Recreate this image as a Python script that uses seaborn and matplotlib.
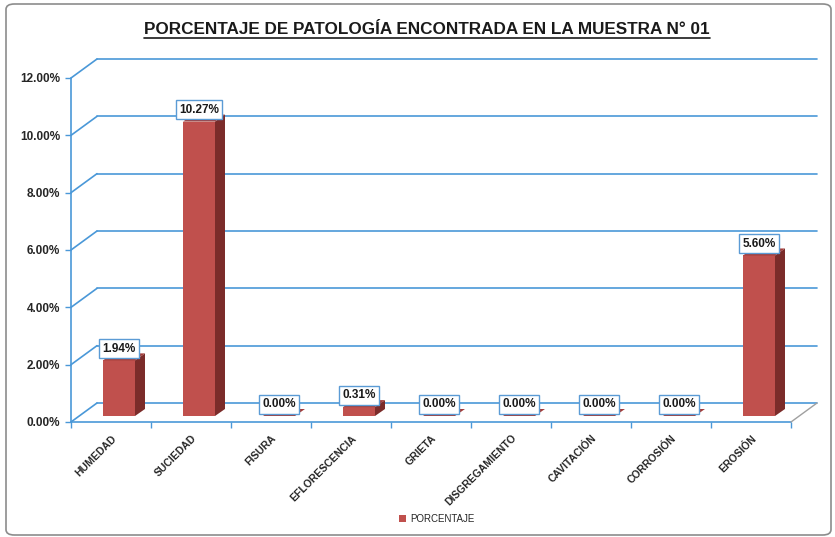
import matplotlib
matplotlib.use("Agg")
import matplotlib.pyplot as plt
import seaborn as sns
import numpy as np
from matplotlib.patches import Polygon, Patch, FancyBboxPatch
from matplotlib.transforms import ScaledTranslation
from matplotlib.lines import Line2D

categories = ["HUMEDAD", "SUCIEDAD", "FISURA", "EFLORESCENCIA", "GRIETA",
              "DISGREGAMIENTO", "CAVITACIÓN", "CORROSIÓN", "EROSIÓN"]
values = [1.94, 10.27, 0.00, 0.31, 0.00, 0.00, 0.00, 0.00, 5.60]
yticks = [0, 2, 4, 6, 8, 10, 12]
title = "PORCENTAJE DE PATOLOGÍA ENCONTRADA EN LA MUESTRA N° 01"
legend_label = "PORCENTAJE"

sns.set_style("white")
plt.rcParams["font.family"] = ["Liberation Sans", "DejaVu Sans"]

W, H = 835, 537
DPI = 100
fig = plt.figure(figsize=(W / DPI, H / DPI), dpi=DPI)

# outer frame
fig.patches.append(FancyBboxPatch((6 / W, 2 / H), (W - 10) / W, (H - 6) / H,
                                  boxstyle="round,pad=0,rounding_size=0.01",
                                  transform=fig.transFigure, fill=False,
                                  edgecolor="#8c8c8c", linewidth=1.2))

x0, x1 = 71, 791
y0, y1 = 422, 78
ax = fig.add_axes([x0 / W, (H - y0) / H, (x1 - x0) / W, (y0 - y1) / H])

red = "#C0504D"
dark = "#7B2C2A"
topc = "#A33C38"
blue = "#4A98D8"

sns.barplot(x=categories, y=values, color=red, width=0.4, ax=ax,
            saturation=1, edgecolor="none")
ax.set_xlim(-0.5, len(categories) - 0.5)
ax.set_ylim(0, 12)
for s in ax.spines.values():
    s.set_visible(False)
ax.set_xlabel("")
ax.set_ylabel("")

pxx = (x1 - x0) / (len(categories))
pxy = (y0 - y1) / 12.0

# back wall
wdx, wdy = 26 / pxx, 19 / pxy
xl, xr = -0.5, len(categories) - 0.5
for t in yticks:
    ax.plot([xl, xl + wdx], [t, t + wdy], color=blue, lw=1.2, clip_on=False, zorder=1)
    ax.plot([xl + wdx, xr + wdx], [t + wdy, t + wdy], color=blue, lw=1.2, clip_on=False, zorder=1)
# front axis and floor
ax.plot([xl, xl], [0, 12], color=blue, lw=1.2, clip_on=False, zorder=1)
ax.plot([xl, xr], [0, 0], color=blue, lw=1.2, clip_on=False, zorder=1)
ax.plot([xr, xr + wdx], [0, wdy], color="#a0a0a0", lw=1.0, clip_on=False, zorder=1)

# 3D bars
off = ScaledTranslation(8 / DPI, 6 / DPI, fig.dpi_scale_trans)
tr = ax.transData + off
sdx, sdy = 10 / pxx, 7 / pxy
for p, v in zip(ax.patches, values):
    p.set_transform(tr)
    p.set_zorder(3)
    x, w, h = p.get_x(), p.get_width(), p.get_height()
    side = Polygon([(x + w, 0), (x + w + sdx, sdy), (x + w + sdx, h + sdy), (x + w, h)],
                   closed=True, facecolor=dark, edgecolor="none", transform=tr,
                   zorder=3, clip_on=False)
    top = Polygon([(x, h), (x + w, h), (x + w + sdx, h + sdy), (x + sdx, h + sdy)],
                  closed=True, facecolor=topc, edgecolor="none", transform=tr,
                  zorder=3, clip_on=False)
    ax.add_patch(side)
    ax.add_patch(top)
    ax.annotate(f"{v:.2f}%", xy=(x + w / 2, h), xycoords=tr,
                xytext=(0, 8.5), textcoords="offset points", ha="center", va="center",
                fontsize=8.5, fontweight="bold", color="#1a1a1a",
                bbox=dict(boxstyle="square,pad=0.3", facecolor="white",
                          edgecolor="#5B9BD5", linewidth=1.0),
                zorder=5, annotation_clip=False)

# ticks
ax.set_yticks(yticks)
ax.set_yticklabels([f"{t:.2f}%" for t in yticks], fontsize=8.5, fontweight="bold")
ax.tick_params(axis="y", length=4, color=blue, width=1.0, left=True, pad=4)
ax.set_xticks(range(len(categories)))
ax.set_xticklabels(categories, rotation=45, ha="right", rotation_mode="anchor",
                   fontsize=7.5, fontweight="bold")
ax.tick_params(axis="x", length=0, pad=8)
ax.set_xticks(np.arange(-0.5, len(categories)), minor=True)
ax.tick_params(axis="x", which="minor", length=4, color=blue, width=1.0, bottom=True)

# title
t = fig.text(427 / W, 1 - 29 / H, title, ha="center", va="center",
             fontsize=12.3, fontweight="bold", color="#1a1a1a")
fig.canvas.draw()
bb = t.get_window_extent()
fig.add_artist(Line2D([bb.x0 / W, bb.x1 / W], [(bb.y0 - 1) / H, (bb.y0 - 1) / H],
                      transform=fig.transFigure, color="#1a1a1a", lw=1.2))

# legend
fig.legend(handles=[Patch(facecolor=red, edgecolor="none", label=legend_label)],
           loc="center", bbox_to_anchor=(437 / W, 1 - 519 / H), frameon=False,
           handlelength=0.7, handleheight=0.7, handletextpad=0.4,
           prop={"size": 7})

fig.savefig("out.png", dpi=DPI)
